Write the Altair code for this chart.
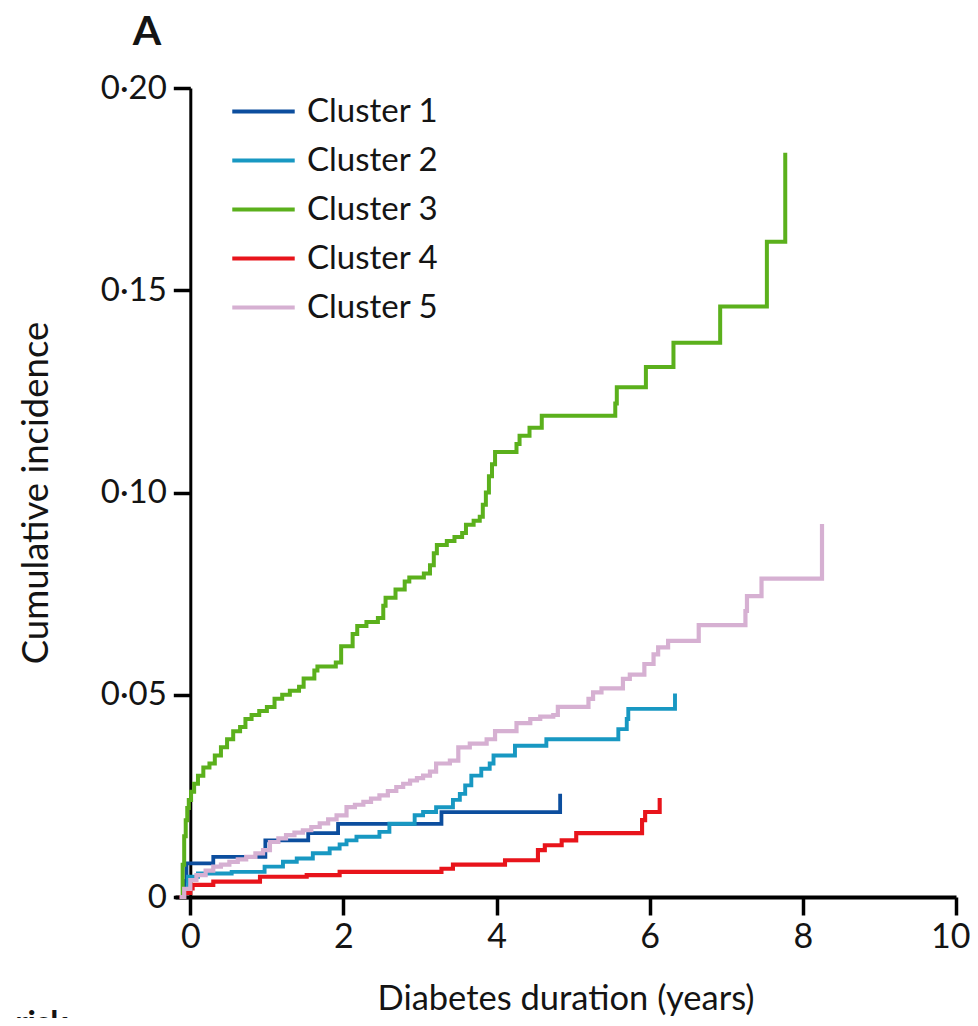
import altair as alt
import pandas as pd

clusters = ["Cluster 1", "Cluster 2", "Cluster 3", "Cluster 4", "Cluster 5"]
colors = ["#0c4e9e", "#1898c2", "#5bb01c", "#e8141b", "#d6b0d2"]
widths = [3.8, 4.2, 5, 3.2, 2.8]

# Cluster 1
t1 = [-0.12, -0.08, -0.05, 0.30, 0.98, 1.54, 1.93, 3.28, 4.83]
v1 = [0.0, 0.004, 0.0083, 0.0099, 0.0140, 0.0158, 0.0181, 0.0210, 0.0255]
# Cluster 2
t2 = [-0.12, -0.08, -0.03, 0.10, 0.54, 0.97, 1.21, 1.39, 1.60, 1.82, 1.95, 2.04,
      2.17, 2.47, 2.60, 2.93, 3.04, 3.21, 3.43, 3.52, 3.59, 3.67, 3.80, 3.91,
      3.96, 4.24, 4.65, 5.59, 5.70, 5.72, 6.33]
v2 = [0.0, 0.002, 0.005, 0.0058, 0.0062, 0.0075, 0.0087, 0.0095, 0.0108, 0.012,
      0.013, 0.014, 0.0149, 0.0161, 0.0181, 0.0202, 0.021, 0.0222, 0.0240, 0.0255,
      0.0276, 0.030, 0.0317, 0.033, 0.035, 0.0374, 0.039, 0.0415, 0.044, 0.0465, 0.0503]
# Cluster 3
t3 = [-0.12, -0.10, -0.08, -0.06, -0.04, -0.02, 0.01, 0.05, 0.10, 0.17, 0.25, 0.32,
      0.40, 0.48, 0.56, 0.65, 0.72, 0.80, 0.90, 1.00, 1.10, 1.20, 1.30, 1.42, 1.48,
      1.62, 1.66, 1.90, 1.97, 2.12, 2.18, 2.30, 2.45, 2.52, 2.55, 2.68, 2.80, 2.86,
      3.05, 3.13, 3.18, 3.22, 3.35, 3.45, 3.55, 3.60, 3.70, 3.78, 3.82, 3.86, 3.90,
      3.94, 3.98, 4.26, 4.30, 4.43, 4.59, 5.55, 5.57, 5.95, 6.31, 6.92, 7.53, 7.77]
v3 = [0.0, 0.008, 0.015, 0.019, 0.022, 0.024, 0.026, 0.028, 0.030, 0.032, 0.033, 0.035,
      0.037, 0.039, 0.041, 0.042, 0.044, 0.045, 0.046, 0.047, 0.049, 0.050, 0.051, 0.052,
      0.054, 0.056, 0.057, 0.058, 0.062, 0.065, 0.067, 0.068, 0.069, 0.072, 0.074, 0.076,
      0.078, 0.079, 0.080, 0.082, 0.085, 0.087, 0.088, 0.089, 0.090, 0.092, 0.093, 0.094,
      0.097, 0.100, 0.104, 0.107, 0.110, 0.112, 0.114, 0.116, 0.119, 0.122, 0.126,
      0.131, 0.137, 0.146, 0.162, 0.184]
# Cluster 4
t4 = [-0.14, -0.08, 0.0, 0.03, 0.30, 0.91, 1.52, 1.95, 3.28, 3.43, 4.11, 4.54,
      4.63, 4.85, 5.04, 5.90, 5.94, 6.13]
v4 = [0.0, 0.001, 0.0021, 0.003, 0.0038, 0.005, 0.0054, 0.0062, 0.007, 0.008,
      0.0091, 0.0116, 0.0128, 0.014, 0.0158, 0.019, 0.021, 0.0245]
# Cluster 5
t5 = [-0.14, -0.08, 0.0, 0.08, 0.20, 0.30, 0.40, 0.51, 0.62, 0.73, 0.85, 0.95,
      1.04, 1.15, 1.25, 1.36, 1.47, 1.58, 1.69, 1.80, 1.91, 2.04, 2.15, 2.26, 2.36,
      2.47, 2.58, 2.69, 2.78, 2.87, 2.96, 3.04, 3.13, 3.21, 3.39, 3.50, 3.65, 3.87,
      3.98, 4.26, 4.44, 4.57, 4.74, 4.80, 5.20, 5.26, 5.37, 5.65, 5.74, 5.93, 6.05,
      6.11, 6.24, 6.64, 7.25, 7.27, 7.46, 8.25]
v5 = [0.0, 0.002, 0.0042, 0.0054, 0.0065, 0.0075, 0.008, 0.0087, 0.0093, 0.0099,
      0.0108, 0.0116, 0.0136, 0.0145, 0.0153, 0.0159, 0.0165, 0.0173, 0.0182, 0.0192,
      0.0202, 0.0222, 0.0228, 0.0235, 0.0243, 0.0251, 0.0262, 0.0272, 0.028, 0.0288,
      0.0294, 0.030, 0.031, 0.033, 0.0337, 0.037, 0.0379, 0.039, 0.041, 0.043, 0.044,
      0.0446, 0.045, 0.047, 0.049, 0.0506, 0.0516, 0.0539, 0.055, 0.0576, 0.060,
      0.0617, 0.0633, 0.0672, 0.0707, 0.0744, 0.0787, 0.0922]

panel_label = "A"
risk_label = "Number at risk"

series = [(t1, v1), (t2, v2), (t3, v3), (t4, v4), (t5, v5)]
rows = []
for name, (ts, vs) in zip(clusters, series):
    for t, v in zip(ts, vs):
        rows.append({"cluster": name, "time": t, "value": v})
df = pd.DataFrame(rows)

FONT = "Lato"
INK = "#141414"

lines = alt.Chart(df).mark_line(interpolate="step-after").encode(
    x=alt.X("time:Q",
            scale=alt.Scale(domain=[-0.2, 10], nice=False, zero=False),
            axis=alt.Axis(values=[0, 2, 4, 6, 8, 10], title="Diabetes duration (years)",
                          grid=False, domainWidth=4, tickWidth=3.5, tickSize=18,
                          labelPadding=5, titlePadding=28, format="d",
                          labelFlush=True, labelFlushOffset=14,
                          labelFontSize=34, titleFontSize=34.5)),
    y=alt.Y("value:Q",
            scale=alt.Scale(domain=[0, 0.2], nice=False),
            axis=alt.Axis(values=[0, 0.05, 0.1, 0.15, 0.2], title="Cumulative incidence",
                          grid=False, domainWidth=3, tickWidth=3.5, tickSize=17,
                          labelPadding=7, titlePadding=45, offset=-15.3,
                          labelFontSize=33, titleFontSize=36.5, labelFlush=False,
                          labelExpr="datum.value == 0 ? '0' : replace(format(datum.value, '.2f'), '.', '\u00b7')")),
    color=alt.Color("cluster:N",
                    scale=alt.Scale(domain=clusters, range=colors),
                    legend=alt.Legend(title=None, orient="none", legendX=55, legendY=4.5,
                                      symbolType="stroke", symbolSize=3900,
                                      symbolStrokeWidth=4, labelFontSize=33,
                                      labelFont=FONT, labelColor=INK,
                                      labelOffset=10, rowPadding=11, clipHeight=38)),
    strokeWidth=alt.StrokeWidth("cluster:N",
                                scale=alt.Scale(domain=clusters, range=widths),
                                legend=None),
    order=alt.Order("time:Q"),
)

label_a = alt.Chart(pd.DataFrame({"t": [panel_label]})).mark_text(
    font=FONT, fontSize=41, fontWeight="bold", color=INK, align="center",
    baseline="alphabetic"
).encode(text="t:N", x=alt.value(-28), y=alt.value(-43))

label_risk = alt.Chart(pd.DataFrame({"t": [risk_label]})).mark_text(
    font=FONT, fontSize=33, fontWeight="bold", color=INK, align="right",
    baseline="top"
).encode(text="t:N", x=alt.value(-107), y=alt.value(920))

chart = alt.layer(lines, label_a, label_risk).properties(
    width=781, height=809,
    autosize=alt.AutoSizeParams(type="none"),
    padding={"left": 167, "top": 80, "right": 14, "bottom": 121},
).configure_view(stroke=None).configure_axis(
    labelFont=FONT, titleFont=FONT,
    titleFontWeight="normal", labelColor=INK, titleColor=INK,
    domainColor="#000", tickColor="#000",
)

chart.save("out.html", embed_options={"renderer": "svg", "actions": False})
